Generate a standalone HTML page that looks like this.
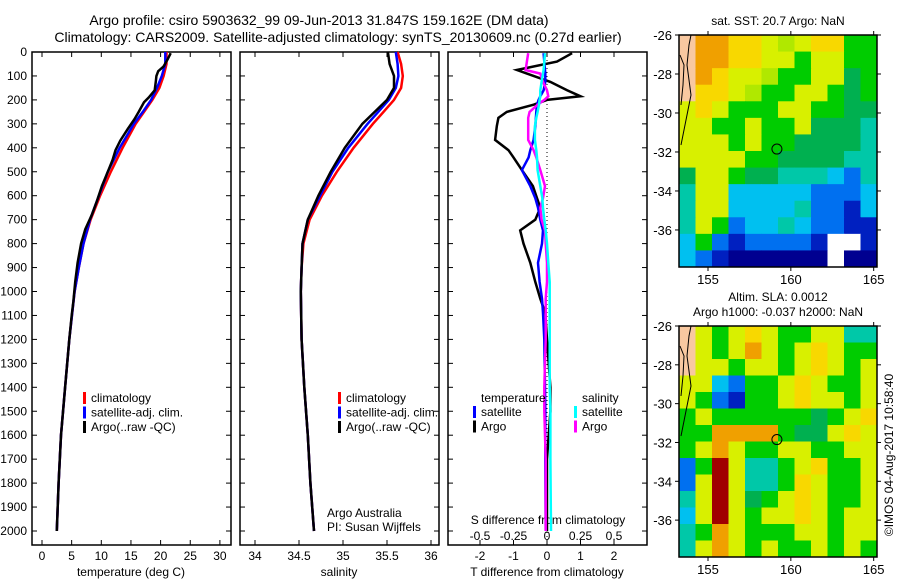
<!DOCTYPE html>
<html><head><meta charset="utf-8"><style>
body{margin:0;background:#fff;}
svg text{font-family:"Liberation Sans",sans-serif;fill:#000;}
</style></head><body>
<svg id="fig" width="900" height="580" xmlns="http://www.w3.org/2000/svg">
<text x="319" y="25" font-size="14" text-anchor="middle">Argo profile: csiro 5903632_99 09-Jun-2013 31.847S 159.162E (DM data)</text>
<text x="338" y="42" font-size="14" text-anchor="middle">Climatology: CARS2009. Satellite-adjusted climatology: synTS_20130609.nc (0.27d earlier)</text>
<g id="g1"></g>
</svg>
<script>
// ---- data ----
const depths = [0,50,100,150,200,250,300,400,500,600,700,800,900,1000,1200,1400,1600,1800,2000];
const tempClim = [21,21,20.5,19.8,18.6,17.2,15.8,13.6,11.6,9.8,8.2,7.0,6.2,5.5,4.6,3.9,3.2,2.8,2.5];
const tempSat  = [20.8,20.8,20.2,19.4,18.4,17.0,15.5,13.1,11.1,9.6,8.1,7.0,6.2,5.5,4.6,3.9,3.2,2.8,2.5];
const argoDepths = [5,30,60,80,100,120,160,190,210,250,280,320,370,410,450,500,560,620,680,740,800,880,960,1040,1100,1200,1400,1600,1800,2000];
const tempArgo = [21.7,21.2,20.5,19.6,19.3,19.2,19.0,18.0,17.2,16.3,15.6,14.5,13.2,12.4,11.9,11.1,10.1,9.3,8.4,7.3,6.6,6.0,5.6,5.3,5.0,4.6,3.9,3.2,2.8,2.5];
const salClim = [35.62,35.66,35.68,35.66,35.58,35.46,35.34,35.12,34.93,34.76,34.62,34.55,34.53,34.52,34.53,34.56,34.6,34.63,34.67];
const salSat  = [35.6,35.62,35.63,35.6,35.52,35.4,35.28,35.06,34.88,34.74,34.6,34.54,34.53,34.52,34.53,34.56,34.6,34.63,34.67];
const salArgo = [35.51,35.53,35.58,35.58,35.5,35.36,35.22,35.02,34.86,34.72,34.6,34.54,34.53,34.52,34.53,34.56,34.6,34.63,34.67];
const diffDepths = [5,40,75,90,125,160,185,200,220,250,275,310,367,410,440,493,560,610,650,700,745,800,880,960,1030,1090,1200,1400,1500,1700,2000];
const tDiffArgo = [0.75,0.3,-0.9,-0.6,0.1,0.6,1.0,0.0,-0.4,-1.2,-1.45,-1.5,-1.55,-1.15,-1.0,-0.75,-0.42,-0.3,-0.2,-0.35,-0.8,-0.7,-0.5,-0.35,-0.2,-0.05,0.0,0.1,0.1,0.0,0.0];
const tDiffSat = [-0.1,-0.08,-0.06,-0.05,-0.05,-0.1,-0.2,-0.25,-0.3,-0.32,-0.33,-0.35,-0.4,-0.5,-0.55,-0.75,-0.5,-0.35,-0.27,-0.2,-0.12,-0.15,-0.27,-0.22,-0.15,-0.12,-0.08,-0.06,-0.05,-0.05,-0.04];
const sDiffArgo = [-0.14,-0.15,-0.16,-0.05,-0.03,0.0,0.01,-0.02,-0.07,-0.13,-0.14,-0.14,-0.14,-0.1,-0.08,-0.05,-0.015,-0.03,-0.05,-0.04,-0.015,-0.01,0.0,0.0,-0.01,-0.01,-0.01,-0.02,-0.02,-0.01,-0.01];
const sDiffSat = [-0.015,-0.02,-0.025,-0.03,-0.04,-0.05,-0.05,-0.055,-0.06,-0.07,-0.08,-0.09,-0.09,-0.08,-0.075,-0.07,-0.05,-0.035,-0.03,-0.02,-0.01,0.0,0.01,0.02,0.02,0.02,0.02,0.02,0.025,0.025,0.03];
const depthTicks = [0,100,200,300,400,500,600,700,800,900,1000,1100,1200,1300,1400,1500,1600,1700,1800,1900,2000];
const tempTicks = [0,5,10,15,20,25,30];
const salTicks = [34,34.5,35,35.5,36];
const tdTicks = [-2,-1,0,1,2];
const sdTicks = [-0.5,-0.25,0,0.25,0.5];
const sdLabels = ["-0.5","-0.25","0","0.25","0.5"];
const latTicks = [-26,-28,-30,-32,-34,-36];
const lonTicks = [155,160,165];
const sstGrid = ["pooyyYgYyyGG","pooyyYYGYYGG","poyYYgGGYYdG","pyyYgGGYYGdG","YyYGGGYYGGdd","YYGGYGGYdddt","YYYGYGGddddt","YYYYGGddddtt","dYYGddtttcbt","tYYcccccbbbc","tYYcccctbbBc","tYGbcctcbbBB","cGbBbbbbBwwB","cbBNNNNNNwNN"];
const slaGrid = ["pYGYyYGGYYtt","pYGYoYGYyYGG","pYYGYYGYyYGY","YYcbGGYyYGGY","YGbBGGYyYYGY","GYGGGGGGdGYy","GGooooGddYyY","GYoYGGYYGGYY","bGRYttGYyGGY","bYRYttGyYGGY","tYRYdGYyYGGY","cYRYGYYyYGYY","tGoYGGGYYGYY","tYoYGYGGYGYG"];
const palette = {p:"#f8c8a0",o:"#f0a000",y:"#f8d800",Y:"#d8f000",g:"#b0e800",G:"#00cc00",d:"#00b050",t:"#00c8a8",c:"#00c0f0",b:"#0070f0",B:"#0020c0",N:"#000090",R:"#a00000",w:"#ffffff"};

const NS="http://www.w3.org/2000/svg";
const root=document.getElementById('g1');
function mk(tag,attrs,parent){const e=document.createElementNS(NS,tag);for(const k in attrs)e.setAttribute(k,attrs[k]);(parent||root).appendChild(e);return e;}
function txt(s,x,y,size,anchor,parent){const t=mk('text',{x:x,y:y,'font-size':size,'text-anchor':anchor||'middle'},parent);t.textContent=s;return t;}

const yTop=52, yBot=545;
const yD=d=>yTop+d*0.2395;

function panel(name,x0,x1){
  const g=mk('g',{});
  
  
  mk('rect',{x:x0,y:yTop,width:x1-x0,height:yBot-yTop,fill:'none',stroke:'#000','stroke-width':1.5},g);
  depthTicks.forEach(d=>{mk('line',{x1:x0,x2:x0+5,y1:yD(d),y2:yD(d),stroke:'#000'},g);mk('line',{x1:x1-5,x2:x1,y1:yD(d),y2:yD(d),stroke:'#000'},g);});
  return g;
}
function line(g,xs,ds,xf,color,name,w){
  const p=xs.map((v,i)=>xf(v).toFixed(1)+','+yD(ds[i]).toFixed(1)).join(' ');
  const l=mk('polyline',{points:p,fill:'none',stroke:color,'stroke-width':w||2.5},g);
  
  
}
function xticks(g,ticks,xf){
  ticks.forEach(t=>{mk('line',{x1:xf(t),x2:xf(t),y1:yTop,y2:yTop+5,stroke:'#000'},g);mk('line',{x1:xf(t),x2:xf(t),y1:yBot-5,y2:yBot,stroke:'#000'},g);});
}
function legend(g,x,y,items){
  items.forEach((it,i)=>{mk('rect',{x:x,y:y+i*14.5-10,width:3,height:12,fill:it[0]},g);txt(it[1],x+8,y+i*14.5,12,'start',g);});
}

// Panel 1 temperature
const xT=v=>42+v*5.93;
const p1=panel('temperature-panel',32,231);
xticks(p1,tempTicks,xT);
tempTicks.forEach(t=>txt(String(t),xT(t),560,12,'middle',p1));
depthTicks.forEach(d=>txt(String(d),27,yD(d)+4,12,'end',p1));
txt('temperature (deg C)',131,576,12,'middle',p1);
line(p1,tempClim,depths,xT,'#ff0000','temp-climatology-line');
line(p1,tempSat,depths,xT,'#0000ff','temp-satellite-line');
line(p1,tempArgo,argoDepths,xT,'#000000','temp-argo-line');
legend(p1,83,402,[['#f00','climatology'],['#00f','satellite-adj. clim.'],['#000','Argo(..raw -QC)']]);

// Panel 2 salinity
const xS=v=>255+(v-34)*88;
const p2=panel('salinity-panel',240,439);
xticks(p2,salTicks,xS);
salTicks.forEach(t=>txt(String(t),xS(t),560,12,'middle',p2));
txt('salinity',339,576,12,'middle',p2);
line(p2,salClim,depths,xS,'#ff0000','sal-climatology-line');
line(p2,salSat,depths,xS,'#0000ff','sal-satellite-line');
line(p2,salArgo,depths,xS,'#000000','sal-argo-line');
legend(p2,338,402,[['#f00','climatology'],['#00f','satellite-adj. clim.'],['#000','Argo(..raw -QC)']]);
txt('Argo Australia',327,517,12,'start',p2);
txt('PI: Susan Wijffels',327,531,12,'start',p2);

// Panel 3 differences
const xTD=v=>547+v*33.5;
const xSD=v=>547+v*134;
const p3=panel('difference-panel',448,647);
xticks(p3,tdTicks,xTD);
mk('line',{x1:547,x2:547,y1:yTop,y2:yBot,stroke:'#000','stroke-dasharray':'1,3'},p3);
tdTicks.forEach(t=>txt(String(t),xTD(t),560,12,'middle',p3));
sdTicks.forEach((t,i)=>txt(sdLabels[i],xSD(t),540,12,'middle',p3));
txt('S difference from climatology',548,524,12,'middle',p3);
txt('T difference from climatology',547,576,12,'middle',p3);
line(p3,tDiffArgo,diffDepths,xTD,'#000000','tdiff-argo-line');
line(p3,tDiffSat,diffDepths,xTD,'#0000ff','tdiff-satellite-line');
line(p3,sDiffArgo,diffDepths,xSD,'#ff00ff','sdiff-argo-line');
line(p3,sDiffSat,diffDepths,xSD,'#00ffff','sdiff-satellite-line');
txt('temperature',481,402,12,'start',p3);
txt('salinity',582,402,12,'start',p3);
legend(p3,473,416,[['#00f','satellite'],['#000','Argo']]);
legend(p3,574,416,[['#0ff','satellite'],['#f0f','Argo']]);

// Maps
const mx0=679,mx1=877,lon0=153.25,lon1=165.2;
const lonX=l=>mx0+(l-lon0)*(mx1-mx0)/(lon1-lon0);
function map(name,y0,y1,grid){
  const g=mk('g',{});
  
  
  const latY=l=>y0+(-26-l)*(y1-y0)/11.9;
  const rows=grid.length, cols=grid[0].length;
  const cw=(mx1-mx0)/cols, ch=(y1-y0)/rows;
  grid.forEach((r,i)=>{for(let j=0;j<cols;j++){mk('rect',{x:mx0+j*cw,y:y0+i*ch,width:cw+0.5,height:ch+0.5,fill:palette[r[j]]},g);}});
  mk('polyline',{points:`${mx0+12},${y0} ${mx0+10},${y0+10} ${mx0+8},${y0+30} ${mx0+12},${y0+60} ${mx0+7},${y0+85} ${mx0+2},${y0+110}`,fill:'none',stroke:'#000','stroke-width':1},g);
  mk('polyline',{points:`${mx0+1},${y0+20} ${mx0+5},${y0+30} ${mx0+4},${y0+50} ${mx0+2},${y0+70}`,fill:'none',stroke:'#000','stroke-width':1},g);
  mk('circle',{cx:lonX(159.16),cy:latY(-31.85),r:5,fill:'none',stroke:'#000'},g);
  mk('rect',{x:mx0,y:y0,width:mx1-mx0,height:y1-y0,fill:'none',stroke:'#000','stroke-width':1.5},g);
  latTicks.forEach(l=>{mk('line',{x1:mx0-4,x2:mx0,y1:latY(l),y2:latY(l),stroke:'#000'},g);mk('line',{x1:mx1,x2:mx1+4,y1:latY(l),y2:latY(l),stroke:'#000'},g);txt(String(l),672,latY(l)+5,13,'end',g);});
  lonTicks.forEach(l=>{mk('line',{x1:lonX(l),x2:lonX(l),y1:y1,y2:y1+4,stroke:'#000'},g);mk('line',{x1:lonX(l),x2:lonX(l),y1:y0-4,y2:y0,stroke:'#000'},g);txt(String(l),lonX(l),y1+17,13,'middle',g);});
  return g;
}
const m1=map('sst-map',35,267,sstGrid);
txt('sat. SST: 20.7 Argo: NaN',778,25,12,'middle',m1);
const m2=map('sla-map',326,557,slaGrid);
txt('Altim. SLA: 0.0012',778,301,12,'middle',m2);
txt('Argo h1000: -0.037 h2000: NaN',778,316,12,'middle',m2);
const st=txt('©IMOS 04-Aug-2017 10:58:40',0,0,12,'middle');
st.setAttribute('transform','translate(893,455) rotate(-90)');


</script>
</body></html>
